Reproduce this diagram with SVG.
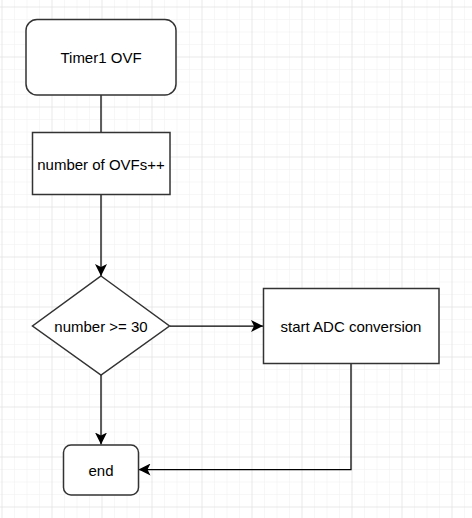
<svg xmlns="http://www.w3.org/2000/svg" width="472" height="518" viewBox="0 0 472 518">
  <defs>
    <pattern id="minor" patternUnits="userSpaceOnUse" x="1.5" y="6.5" width="12.5" height="12.5">
      <path d="M0,0 H12.5 M0,0 V12.5" fill="none" stroke="#f0f0f0" stroke-width="1"/>
    </pattern>
    <pattern id="major" patternUnits="userSpaceOnUse" x="1.5" y="6.5" width="50" height="50">
      <path d="M0,0 H50 M0,0 V50" fill="none" stroke="#dedede" stroke-width="1"/>
    </pattern>
    <marker id="arrow" markerUnits="userSpaceOnUse" markerWidth="12" markerHeight="12" viewBox="0 0 10 10" refX="10" refY="5" orient="auto">
      <path d="M0,0 L10,5 L0,10 L2.5,5 Z" fill="#000"/>
    </marker>
  </defs>
  <style>
    .node { fill: #ffffff; stroke: #333333; stroke-width: 1.5; }
    .edge { fill: none; stroke: #000000; stroke-width: 1.25; }
    .label { font-family: "Liberation Sans", Arial, Helvetica, sans-serif; font-size: 15px; fill: #000000; text-anchor: middle; dominant-baseline: central; }
  </style>
  <rect x="0" y="0" width="472" height="518" fill="#ffffff"/>
  <rect x="0" y="0" width="472" height="518" fill="url(#minor)"/>
  <rect x="0" y="0" width="472" height="518" fill="url(#major)"/>

  <g id="connectors">
    <path class="edge" d="M101,95 V132"/>
    <path class="edge" d="M101,195 V276" marker-end="url(#arrow)"/>
    <path class="edge" d="M101,375 V444.5" marker-end="url(#arrow)"/>
    <path class="edge" d="M170,326 H263" marker-end="url(#arrow)"/>
    <path class="edge" d="M351,363 V469.5 H138.5" marker-end="url(#arrow)"/>
  </g>

  <g id="timer1-ovf">
    <rect class="node" x="26" y="19.5" width="150" height="75.5" rx="11" ry="11"/>
    <text class="label" x="101" y="57">Timer1 OVF</text>
  </g>
  <g id="number-of-ovfs">
    <rect class="node" x="32.5" y="132.5" width="137.5" height="62"/>
    <text class="label" x="101" y="164">number of OVFs++</text>
  </g>
  <g id="decision">
    <polygon class="node" points="101,276 169.5,326 101,375 32.5,326"/>
    <text class="label" x="101" y="326">number &gt;= 30</text>
  </g>
  <g id="start-adc">
    <rect class="node" x="263.5" y="288.5" width="175.5" height="75"/>
    <text class="label" x="351" y="326">start ADC conversion</text>
  </g>
  <g id="end">
    <rect class="node" x="63.5" y="445" width="75" height="50" rx="7.5" ry="7.5"/>
    <text class="label" x="101" y="470">end</text>
  </g>
</svg>
